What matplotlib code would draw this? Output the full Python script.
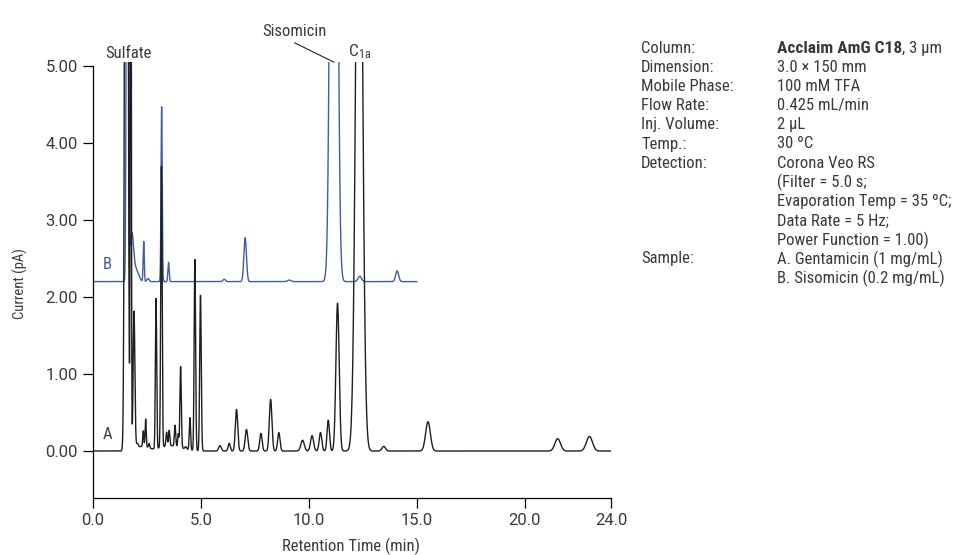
import numpy as np
import matplotlib
matplotlib.use("Agg")
import matplotlib.pyplot as plt
from matplotlib import font_manager

# ---------------------------------------------------------------- fonts
_names = {f.name for f in font_manager.fontManager.ttflist}
FAMILY = "Roboto"
for cand in ["Liberation Sans Narrow", "Roboto Condensed", "Open Sans Condensed"]:
    if cand in _names:
        FAMILY = cand
        break
TICK_FAMILY = "Roboto" if "Roboto" in _names else FAMILY
plt.rcParams["font.family"] = [FAMILY, "DejaVu Sans"]
plt.rcParams["mathtext.fontset"] = "custom"
plt.rcParams["mathtext.rm"] = FAMILY
plt.rcParams["mathtext.it"] = FAMILY
plt.rcParams["mathtext.bf"] = FAMILY + ":bold"

# ---------------------------------------------------------------- data
# Chromatogram peaks: retention time (min), height (pA), peak sigma (min)
a_times = [1.546, 1.75, 1.90, 2.05, 2.30, 2.33, 2.44, 2.60, 2.92, 3.17, 3.41,
           3.53, 3.60, 3.80, 3.95, 4.06, 4.30, 4.49, 4.72, 4.98, 5.88, 6.31,
           6.65, 7.11, 7.78, 8.23, 8.61, 9.71, 10.15, 10.54, 10.90, 11.33,
           12.33, 13.47, 15.52, 21.53, 23.00]
a_heights = [22.0, 10.0, 1.80, 0.06, 0.06, 0.20, 0.36, 0.06, 1.95, 3.65, 0.18,
             0.20, 0.07, 0.27, 0.17, 1.05, 0.03, 0.42, 2.48, 2.02, 0.07, 0.10,
             0.54, 0.28, 0.23, 0.67, 0.24, 0.14, 0.20, 0.24, 0.40, 1.92,
             9.70, 0.06, 0.38, 0.16, 0.19]
a_sigmas = [0.056, 0.023, 0.040, 0.05, 0.25, 0.025, 0.025, 0.03, 0.030, 0.032,
            0.03, 0.03, 0.50, 0.03, 0.025, 0.032, 0.04, 0.03, 0.033, 0.035,
            0.06, 0.05, 0.055, 0.06, 0.055, 0.06, 0.055, 0.08, 0.07, 0.06,
            0.055, 0.075, 0.143, 0.08, 0.11, 0.13, 0.14]
a_baseline = 0.0
a_start, a_end = 0.0, 24.0

b_times = [1.597, 1.80, 2.00, 2.35, 2.55, 3.18, 3.50, 6.08, 7.05, 9.09,
           11.16, 12.36, 14.09]
b_heights = [12.0, 0.60, 0.15, 0.52, 0.04, 2.27, 0.25, 0.03, 0.57, 0.02,
             16.7, 0.07, 0.14]
b_sigmas = [0.040, 0.08, 0.12, 0.025, 0.05, 0.028, 0.03, 0.06, 0.06, 0.08,
            0.123, 0.08, 0.07]
b_baseline = 2.2
b_start, b_end = 0.0, 15.0

x_ticks = [0.0, 5.0, 10.0, 15.0, 20.0, 24.0]
y_ticks = [0.0, 1.0, 2.0, 3.0, 4.0, 5.0]

info_labels = ["Column:", "Dimension:", "Mobile Phase:", "Flow Rate:",
               "Inj. Volume:", "Temp.:", "Detection:", "", "", "", "",
               "Sample:", ""]
info_values = [None, "3.0 \u00d7 150 mm", "100 mM TFA", "0.425 mL/min",
               "2 \u00b5L", "30 \u00baC", "Corona Veo RS", "(Filter = 5.0 s;",
               "Evaporation Temp = 35 \u00baC;", "Data Rate = 5 Hz;",
               "Power Function = 1.00)", "A. Gentamicin (1 mg/mL)",
               "B. Sisomicin (0.2 mg/mL)"]
column_bold = "Acclaim AmG C18"
column_rest = ", 3 \u00b5m"

# ---------------------------------------------------------------- traces
def trace(t0, t1, base, times, heights, sigmas, step=0.002):
    t = np.arange(t0, t1 + step / 2, step)
    y = np.full_like(t, base)
    for c, h, s in zip(times, heights, sigmas):
        y += h * np.exp(-0.5 * ((t - c) / s) ** 2)
    return t, y

ta, ya = trace(a_start, a_end, a_baseline, a_times, a_heights, a_sigmas)
tb, yb = trace(b_start, b_end, b_baseline, b_times, b_heights, b_sigmas)

# ---------------------------------------------------------------- figure
W, H = 958, 555
fig = plt.figure(figsize=(W / 100, H / 100), dpi=100)
ax_left, ax_right = 93, 611
ax_bottom_px, ax_top_px = 498, 62.15
Y_MIN, Y_MAX = -0.61, 5.05
ax = fig.add_axes([ax_left / W, 1 - ax_bottom_px / H,
                   (ax_right - ax_left) / W, (ax_bottom_px - ax_top_px) / H])

TXT = "#3a3a3a"
BLACK = "#1e1e1e"
BLUE = "#3d5ca9"

ax.plot(tb, yb, color=BLUE, lw=1.0, solid_joinstyle="round")
ax.plot(ta, ya, color=BLACK, lw=1.0, solid_joinstyle="round")

ax.set_xlim(0, 24)
ax.set_ylim(Y_MIN, Y_MAX)
for s in ["top", "right"]:
    ax.spines[s].set_visible(False)
ax.spines["left"].set_bounds(Y_MIN, 5.0)
for s in ["left", "bottom"]:
    ax.spines[s].set_linewidth(0.9)
    ax.spines[s].set_color("black")

ax.set_xticks(x_ticks)
ax.set_xticklabels([f"{v:.1f}" for v in x_ticks], family=TICK_FAMILY)
ax.set_yticks(y_ticks)
ax.set_yticklabels([f"{v:.2f}" for v in y_ticks], family=TICK_FAMILY)
ax.tick_params(direction="out", length=7, width=0.9, pad=4, labelsize=12,
               labelcolor=TXT, color="black")

fig.text(351 / W, 1 - 546 / H, "Retention Time (min)", fontsize=12, color=TXT,
         ha="center", va="center")
fig.text(20 / W, 1 - 284 / H, "Current (pA)", fontsize=10.5, color=TXT,
         ha="center", va="center", rotation=90)

# trace labels
ax.text(0.65, 0.21, "A", color=TXT, fontsize=12, ha="center", va="center")
ax.text(0.65, 2.42, "B", color=BLUE, fontsize=12, ha="center", va="center")

# peak annotations
ax.text(1.62, 5.16, "Sulfate", color=TXT, fontsize=12, ha="center", va="center")
ax.text(9.31, 5.45, "Sisomicin", color=TXT, fontsize=12, ha="center", va="center")
ax.plot([9.35, 11.16], [5.30, 5.05], color="#222222", lw=0.8, clip_on=False)
ax.text(12.36, 5.18, r"$\mathrm{C}_{\mathrm{1a}}$", color=TXT, fontsize=12.5,
        ha="center", va="center")

# method conditions
x_lab, x_val = 641 / W, 777 / W
row0, row_gap = 47, 19.1
for i, (lab, val) in enumerate(zip(info_labels, info_values)):
    yy = 1 - (row0 + i * row_gap) / H
    if lab:
        fig.text(x_lab, yy, lab, fontsize=12, color=TXT, va="center_baseline")
    if val:
        fig.text(x_val, yy, val, fontsize=12, color=TXT, va="center_baseline")

y0 = 1 - row0 / H
tb_bold = fig.text(x_val, y0, column_bold, fontsize=12.5, color=TXT,
                   fontweight="bold", va="center_baseline")
renderer = fig.canvas.get_renderer()
bb = tb_bold.get_window_extent(renderer=renderer)
fig.text(bb.x1 / W, y0, column_rest, fontsize=12, color=TXT, va="center_baseline")

fig.savefig("out.png", dpi=100)
